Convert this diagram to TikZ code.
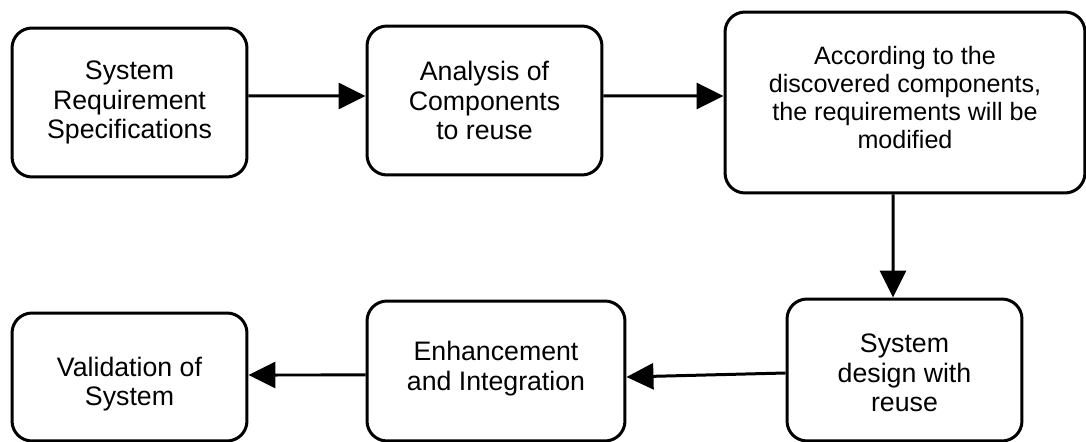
\documentclass[tikz,border=0pt]{standalone}
\usepackage{fontspec}
\setmainfont{Liberation Sans}
\usetikzlibrary{arrows.meta}

\begin{document}
\begin{tikzpicture}[x=0.02cm,y=-0.02cm,
  stepbox/.style={draw,line width=0.06cm,rounded corners=0.4cm,align=center,
    font=\fontsize{15.2}{16.8}\selectfont,inner sep=0pt},
  flow/.style={line width=0.06cm,-{Triangle[length=0.54cm,width=0.52cm]}}]
  \useasboundingbox (0,0) rectangle (1086,442);
  % top row
  \node[stepbox,minimum width=4.7cm,minimum height=2.98cm] (req) at (129.5,102.5)
    {System\\Requirement\\Specifications};
  \node[stepbox,minimum width=4.7cm,minimum height=2.98cm] (ana) at (484.5,100.5)
    {Analysis of\\Components\\to reuse};
  \node[stepbox,minimum width=7.2cm,minimum height=3.62cm,
    font=\fontsize{14.3}{15.9}\selectfont,text depth=5.7pt] (mod) at (905,102.5)
    {According to the\\discovered components,\\the requirements will be\\modified};
  % bottom row
  \node[stepbox,minimum width=4.7cm,minimum height=2.84cm,text height=47.5pt] (des) at (904.5,370)
    {System\\design with\\reuse};
  \node[stepbox,minimum width=5.16cm,minimum height=2.8cm,text depth=6pt] (enh) at (496,371)
    {Enhancement\\and Integration};
  \node[stepbox,minimum width=4.7cm,minimum height=2.56cm,text height=36pt] (val) at (129.5,377)
    {Validation of\\System};
  % connectors
  \draw[flow] ([yshift=0.13cm]req.east) -- ([yshift=0.09cm]ana.west);
  \draw[flow] ([yshift=0.09cm]ana.east) -- ([yshift=0.13cm]mod.west);
  \draw[flow] ([xshift=-0.24cm]mod.south) -- ([xshift=-0.23cm]des.north);
  \draw[flow] ([yshift=-0.06cm]des.west) -- ([yshift=-0.12cm]enh.east);
  \draw[flow] ([yshift=-0.08cm]enh.west) -- ([yshift=0.04cm]val.east);
\end{tikzpicture}
\end{document}
